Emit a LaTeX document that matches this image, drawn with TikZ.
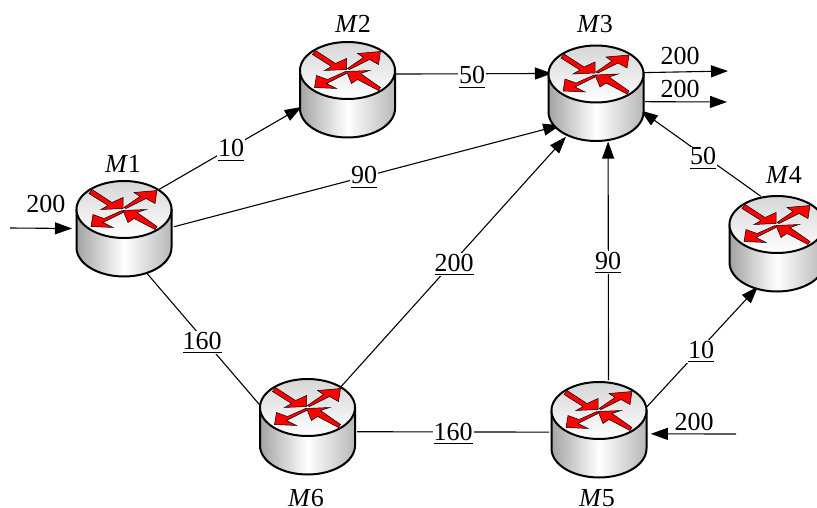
\documentclass[tikz,border=0pt]{standalone}
\usepackage{fontspec}
\setmainfont{Liberation Serif}
\usetikzlibrary{arrows.meta,calc}
\newcommand\ulabel[1]{\vtop{\hbox{#1}\kern 3.2pt\hrule height 1pt}}
\newcommand\routerart[1]{%
  \begin{scope}[shift={(#1)}]
    \draw[line width=2pt,left color=black!36,right color=black!28,middle color=white]
      (-47.5,-19) -- (-47.5,19) arc[start angle=180,end angle=360,x radius=47.5pt,y radius=29pt] -- (47.5,-19) -- cycle;
    \draw[line width=2pt,top color=black!16,bottom color=white] (0,-19) ellipse[x radius=47.5pt,y radius=28.5pt];
    \begin{scope}[shift={(0,-19)}]
      \draw[redarrow] (-32,-20) -- (-12,-7) -- (-1,-12) -- (-1,-1) -- (-23,0) -- (-16,-4) -- (-35,-16) -- cycle;
      \draw[redarrow] (0,-2) -- (16,-13) -- (10,-17) -- (33,-19) -- (31,-6) -- (22,-11) -- (2,-1) -- cycle;
      \draw[redarrow] (33,17) -- (13,3) -- (22,0) -- (-1,1) -- (4,13) -- (10,9) -- (31,20) -- cycle;
      \draw[redarrow] (-2,1) -- (-20,9) -- (-31,5) -- (-33,17) -- (-11,18) -- (-21,13) -- (-1,3) -- cycle;
    \end{scope}
  \end{scope}}
\tikzset{
  routerbody/.style={circle,minimum size=100pt,inner sep=0pt,outer sep=0pt},
  link/.style={line width=1.1pt,black},
  linkhead/.style={link,-{Triangle[length=17pt,width=12pt]}},
  redarrow/.style={fill=red,draw=black,line width=0.5pt,line join=miter},
  txt/.style={font=\fontsize{26}{28}\selectfont,inner sep=0pt,anchor=base},
  flowlabel/.style={txt,fill=white,inner xsep=1pt,inner ysep=1pt}
}
\begin{document}
\begin{tikzpicture}[x=1pt,y=-1pt]
\useasboundingbox (0,0) rectangle (817,508);
\clip (0,0) rectangle (817,508);
\fill[white] (0,0) rectangle (817,508);
\node[routerbody] (m1) at (124,228.5) {};
\node[routerbody] (m2) at (347.5,89.5) {};
\node[routerbody] (m3) at (596,93) {};
\node[routerbody] (m4) at (777,243.5) {};
\node[routerbody] (m5) at (599,429.5) {};
\node[routerbody] (m6) at (307.5,426.5) {};
\coordinate (in1) at (10,228);
\coordinate (in5) at (736,434);
\coordinate (out1) at (728,71);
\coordinate (out2) at (727,102);
% connectors
\draw[linkhead,shorten >=2pt] (in1) -- (m1.180);
\draw[linkhead,shorten >=-1pt] (m1.49) -- (m2.201.8);
\draw[linkhead,shorten >=-2pt] (m1.2) -- (m3.221);
\draw[link] (m1.-63) -- (m6.157.5);
\draw[linkhead,shorten >=3pt] (m6.50) -- (m3.236.3);
\draw[link] (m6.-6.6) -- (m5.183);
\draw[linkhead] (m5.79.5) -- (m3.-76.2);
\draw[linkhead,shorten >=-3pt] (m5.24) -- (m4.245.6);
\draw[linkhead,shorten >=2pt] (in5) -- (m5.-5.4);
\draw[linkhead,shorten >=-2pt] (m4.109) -- (m3.-22.6);
\draw[linkhead,shorten >=-2pt] (m2.18.6) -- (m3.157.4);
\draw[linkhead] (m3.24.6) -- (out1);
\draw[linkhead] (m3.-10.6) -- (out2);
% routers
\routerart{m1}
\routerart{m2}
\routerart{m3}
\routerart{m4}
\routerart{m5}
\routerart{m6}
% labels
\node[txt] (n1) at (123,172) {\textit{M}1};
\node[txt] (n2) at (353,33) {\textit{M}2};
\node[txt] (n3) at (595,33) {\textit{M}3};
\node[txt] (n4) at (784,184) {\textit{M}4};
\node[txt] (n5) at (597,506) {\textit{M}5};
\node[txt] (n6) at (306,506) {\textit{M}6};
\node[txt] (f1) at (46,212) {200};
\node[txt] (f2) at (680,65) {200};
\node[txt] (f3) at (680,98) {200};
\node[txt] (f4) at (694,430) {200};
\node[flowlabel] (l1) at (231,157) {\ulabel{10}};
\node[flowlabel] (l2) at (364,184) {\ulabel{90}};
\node[flowlabel] (l3) at (202,349) {\ulabel{160}};
\node[flowlabel] (l4) at (454,271) {\ulabel{200}};
\node[flowlabel] (l5) at (453,440) {\ulabel{160}};
\node[flowlabel] (l6) at (608,269) {\ulabel{90}};
\node[flowlabel] (l7) at (701,358) {\ulabel{10}};
\node[flowlabel] (l8) at (703,165) {\ulabel{50}};
\node[flowlabel] (l9) at (472,84) {\ulabel{50}};
\end{tikzpicture}
\end{document}
